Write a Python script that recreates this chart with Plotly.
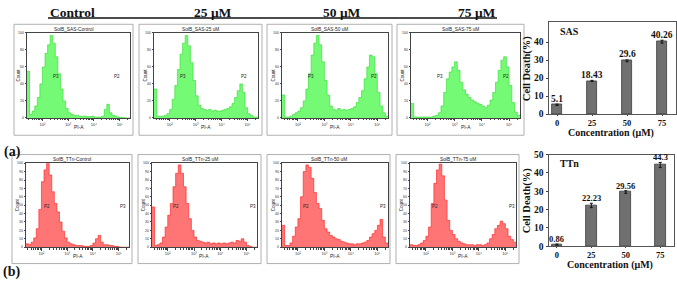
import numpy as np
import plotly.graph_objects as go

W, H = 677, 284

# ---------------- data ----------------
pia_log10_edges = [1.4, 1.5, 1.6, 1.7, 1.8, 1.9, 2.0, 2.1, 2.2, 2.3, 2.4, 2.5, 2.6, 2.7,
                   2.8, 2.9, 3.0, 3.1, 3.2, 3.3, 3.4, 3.5, 3.6, 3.7, 3.8, 3.9, 4.0, 4.1,
                   4.2, 4.3, 4.4, 4.5, 4.6, 4.7, 4.8, 4.9, 5.0, 5.1, 5.2, 5.3, 5.4]

header_labels = ["Control", "25 μM", "50 μM", "75 μM"]
sas_titles = ["SolB_SAS-Control", "SolB_SAS-25 uM", "SolB_SAS-50 uM", "SolB_SAS-75 uM"]
ttn_titles = ["SolB_TTn-Control", "SolB_TTn-25 uM", "SolB_TTn-50 uM", "SolB_TTn-75 uM"]

sas_control = [55, 4, 8, 14, 24, 40, 60, 76, 86, 97, 88, 72, 52, 34, 20, 11, 6, 4, 3, 3,
               2, 2, 2, 1.5, 1.5, 2, 1, 1, 1, 2, 10, 16, 6, 3, 2, 1, 0.5, 0.5, 0, 0]
sas_25 = [34, 2, 2, 2, 3, 5, 10, 22, 38, 57, 75, 88, 97, 85, 65, 44, 26, 15, 11, 10,
          9, 10, 8, 9, 8, 8, 9, 10, 11, 13, 17, 24, 32, 40, 30, 12, 5, 3, 1, 1]
sas_50 = [27, 1, 1, 2, 4, 6, 8, 12, 20, 34, 52, 74, 88, 97, 86, 66, 44, 27, 14, 10,
          9, 11, 9, 10, 9, 10, 11, 13, 18, 24, 32, 46, 60, 74, 72, 52, 30, 14, 6, 2]
sas_75 = [17, 1, 1, 1, 1, 1, 1, 1, 2, 3, 6, 14, 30, 46, 54, 60, 66, 56, 42, 33,
          28, 24, 21, 19, 17, 16, 14, 12, 15, 21, 30, 42, 56, 68, 72, 60, 38, 18, 7, 3]

ttn_control = [4, 3, 6, 11, 22, 45, 78, 92, 100, 86, 66, 52, 42, 30, 19, 11, 6, 4, 3, 2,
               2, 2, 1, 1, 1, 2, 5, 10, 14, 6, 3, 3, 2, 2, 1, 1, 0, 0, 0, 0]
ttn_25 = [48, 2, 3, 5, 12, 24, 38, 52, 72, 88, 98, 88, 72, 52, 34, 20, 12, 8, 7, 6,
          5, 6, 4, 5, 4, 5, 4, 5, 4, 5, 6, 5, 8, 7, 10, 6, 2, 1, 0, 0]
ttn_50 = [26, 2, 2, 5, 13, 24, 34, 60, 90, 98, 95, 82, 65, 52, 46, 32, 22, 18, 14, 12,
          10, 9, 7, 6, 5, 4, 4, 3, 4, 4, 5, 6, 8, 12, 16, 20, 26, 33, 12, 5]
ttn_75 = [3, 2, 2, 3, 5, 8, 13, 24, 52, 76, 92, 99, 85, 56, 32, 20, 15, 10, 7, 5,
          4, 3, 3, 3, 2, 3, 3, 2, 3, 5, 10, 15, 22, 26, 31, 28, 22, 13, 9, 6]

# gates (log10 PI-A for the divider, count level for the horizontal bars)
sas_gate_x = [4.37, 4.32, 4.24, 4.30]
sas_gate_left = [56, 18, 21.5, 24]
sas_gate_right = [52, 18, 21.5, 24]
ttn_gate_x = [4.28, 4.29, 4.35, 4.35]
ttn_gate_left = [29, 33, 50, 20]
ttn_gate_right = [18, 20, 50, 13]

concentrations = ["0", "25", "50", "75"]
sas_death = [5.1, 18.43, 29.6, 40.26]
sas_err = [0.4, 0.3, 0.5, 0.8]
sas_labels = ["5.1", "18.43", "29.6", "40.26"]
ttn_death = [0.86, 22.23, 29.56, 44.3]
ttn_err = [0.3, 1.2, 0.7, 1.4]
ttn_labels = ["0.86", "22.23", "29.56", "44.3"]

# ---------------- styling / layout ----------------
SERIF = "Liberation Serif, Times New Roman, serif"
SANS = "Liberation Sans, Arial, sans-serif"


def fx(p):
    return p / W


def fy(p):
    return 1 - p / H


rows = [
    dict(inner_x=[(27, 130), (154, 258), (282, 388), (411, 520)],
         outer_x=[(14, 133), (139, 262), (267, 392), (397, 524)],
         inner_y=(29, 117), outer_y=(20, 135),
         hist=[sas_control, sas_25, sas_50, sas_75], titles=sas_titles,
         gx=sas_gate_x, gl=sas_gate_left, gr=sas_gate_right,
         lab_l="P3", lab_r="P2", lxl=[2.54, 2.53, 2.48, 2.47], lxr=[4.9, 4.87, 4.88, 4.9],
         fill="rgba(110,250,110,0.95)", line="#2bdc2b", dtick=20),
    dict(inner_x=[(26, 129), (152, 257), (282, 388), (410, 516)],
         outer_x=[(12, 132), (138, 261), (267, 390), (396, 519)],
         inner_y=(164, 251), outer_y=(155, 268),
         hist=[ttn_control, ttn_25, ttn_50, ttn_75], titles=ttn_titles,
         gx=ttn_gate_x, gl=ttn_gate_left, gr=ttn_gate_right,
         lab_l="P2", lab_r="P3", lxl=[2.23, 2.32, 2.29, 2.35], lxr=[5.18, 5.23, 5.22, 5.25],
         fill="rgba(255,110,110,0.95)", line="#ff1a1a", dtick=10),
]

x_edges = 10 ** np.array(pia_log10_edges)
minor_vals = [k * 10.0 ** d for d in range(1, 6) for k in range(2, 10)
              if 1.4 <= np.log10(k * 10.0 ** d) <= 5.4]

fig = go.Figure()
axes = {}
shapes = []
ann = []

idx = 0
for r in rows:
    for j in range(4):
        idx += 1
        counts = list(r["hist"][j])
        fig.add_trace(go.Scatter(
            x=x_edges, y=counts + [counts[-1]], mode="lines",
            line=dict(shape="hv", width=0.6, color=r["line"]),
            fill="tozeroy", fillcolor=r["fill"],
            xaxis=f"x{idx}", yaxis=f"y{idx}", hoverinfo="skip", showlegend=False))
        l, rr = r["inner_x"][j]
        t, b = r["inner_y"]
        axes[f"xaxis{idx}"] = dict(
            domain=[fx(l), fx(rr)], anchor=f"y{idx}", type="log", range=[1.4, 5.4],
            tickvals=[1e2, 1e3, 1e4, 1e5], ticktext=["10²", "10³", "10⁴", "10⁵"],
            ticks="outside", ticklen=2.5, tickwidth=0.6, tickcolor="#444",
            tickfont=dict(size=4, family=SANS, color="#333"),
            showline=True, mirror=True, linecolor="#444", linewidth=0.8,
            showgrid=False, zeroline=False,
            minor=dict(tickvals=minor_vals, ticks="outside", ticklen=1.5,
                       tickwidth=0.5, tickcolor="#444"))
        axes[f"yaxis{idx}"] = dict(
            domain=[fy(b), fy(t)], anchor=f"x{idx}", range=[0, 100],
            dtick=r["dtick"], ticks="outside", ticklen=1.5, tickwidth=0.5, tickcolor="#444",
            tickfont=dict(size=3.5, family=SANS, color="#333"),
            showline=True, mirror=True, linecolor="#444", linewidth=0.8,
            showgrid=False, zeroline=False)
        # gates
        g = r["gx"][j]
        gl_ = dict(color="#4a4a4a", width=0.8)
        shapes.append(dict(type="line", xref=f"x{idx}", yref=f"y{idx}",
                           x0=g, x1=g, y0=0, y1=100, line=gl_))
        shapes.append(dict(type="line", xref=f"x{idx}", yref=f"y{idx}",
                           x0=1.4, x1=g, y0=r["gl"][j], y1=r["gl"][j], line=gl_))
        shapes.append(dict(type="line", xref=f"x{idx}", yref=f"y{idx}",
                           x0=g, x1=5.4, y0=r["gr"][j], y1=r["gr"][j], line=gl_))
        ann.append(dict(xref=f"x{idx}", yref=f"y{idx}", x=r["lxl"][j], y=49,
                        text=r["lab_l"], showarrow=False,
                        font=dict(size=4.5, family=SANS, color="#222")))
        ann.append(dict(xref=f"x{idx}", yref=f"y{idx}", x=r["lxr"][j], y=49,
                        text=r["lab_r"], showarrow=False,
                        font=dict(size=4.5, family=SANS, color="#222")))
        # outer frame
        ol, orr = r["outer_x"][j]
        ot, ob = r["outer_y"]
        shapes.append(dict(type="rect", xref="paper", yref="paper",
                           x0=fx(ol), x1=fx(orr), y0=fy(ob), y1=fy(ot),
                           line=dict(color="#9c9c9c", width=0.8)))
        # titles / axis labels
        ann.append(dict(xref="paper", yref="paper", x=fx((ol + orr) / 2), y=fy(t - 4),
                        text=r["titles"][j], showarrow=False,
                        font=dict(size=4.8, family=SANS, color="#222")))
        ann.append(dict(xref="paper", yref="paper", x=fx((l + rr) / 2), y=fy(b + 10),
                        text="PI-A", showarrow=False,
                        font=dict(size=4.8, family=SANS, color="#222")))
        ann.append(dict(xref="paper", yref="paper", x=fx(l - 9), y=fy((t + b) / 2),
                        text="Count", showarrow=False, textangle=-90,
                        font=dict(size=4.5, family=SANS, color="#222")))

# ---------------- bar charts ----------------
bar_specs = [
    dict(vals=sas_death, err=sas_err, labels=sas_labels, name="SAS",
         x=(549, 676), y=(18, 113), yr=[0, 51], lab_size=9.5, shift=5.5, conc_off=20),
    dict(vals=ttn_death, err=ttn_err, labels=ttn_labels, name="TTn",
         x=(549, 674), y=(155, 250), yr=[0, 50], lab_size=8.5, shift=5, conc_off=19),
]
for bs in bar_specs:
    idx += 1
    fig.add_trace(go.Bar(
        x=[0, 1, 2, 3], y=bs["vals"], width=0.31,
        marker=dict(color="#707070", line=dict(color="#3c3c3c", width=0.8)),
        error_y=dict(type="data", array=bs["err"], visible=True, thickness=1,
                     width=1.5, color="#111"),
        xaxis=f"x{idx}", yaxis=f"y{idx}", showlegend=False, hoverinfo="skip"))
    for k, (v, e, lab) in enumerate(zip(bs["vals"], bs["err"], bs["labels"])):
        ann.append(dict(xref=f"x{idx}", yref=f"y{idx}", x=k, y=v + e, yshift=bs["shift"],
                        text=f"<b>{lab}</b>", showarrow=False,
                        font=dict(size=bs["lab_size"], family=SERIF, color="#111")))
    l, rr = bs["x"]
    t, b = bs["y"]
    axes[f"xaxis{idx}"] = dict(
        domain=[fx(l), fx(rr)], anchor=f"y{idx}", range=[-0.23, 3.4],
        tickvals=[0, 1, 2, 3], ticktext=concentrations, ticks="outside", ticklen=1,
        tickcolor="#444", tickfont=dict(size=8.5, family=SERIF, color="#111", weight="bold"),
        showline=True, mirror=True, linecolor="#555", linewidth=1,
        showgrid=False, zeroline=False)
    axes[f"yaxis{idx}"] = dict(
        domain=[fy(b), fy(t)], anchor=f"x{idx}", range=bs["yr"],
        tickvals=[0, 10, 20, 30, 40, 50] if bs["yr"][1] == 50 else [0, 10, 20, 30, 40],
        ticks="outside", ticklen=2.5, tickcolor="#444",
        tickfont=dict(size=9.5, family=SERIF, color="#111", weight="bold"),
        showline=True, mirror=True, linecolor="#555", linewidth=1,
        showgrid=False, zeroline=False)
    ann.append(dict(xref="paper", yref="paper", x=fx(l + 9), y=fy(t + 9), xanchor="left",
                    text=f"<b>{bs['name']}</b>", showarrow=False,
                    font=dict(size=10, family=SERIF, color="#111")))
    ann.append(dict(xref="paper", yref="paper", x=fx((l + rr) / 2 - 2), y=fy(b + bs["conc_off"]),
                    text="<b>Concentration (μM)</b>", showarrow=False,
                    font=dict(size=10, family=SERIF, color="#111")))
    ann.append(dict(xref="paper", yref="paper", x=fx(527), y=fy((t + b) / 2),
                    text="<b>Cell Death(%)</b>", showarrow=False, textangle=-90,
                    font=dict(size=10.5, family=SERIF, color="#111")))

# ---------------- header & panel letters ----------------
header_x = [72, 213, 342, 477]
for hx, txt in zip(header_x, header_labels):
    ann.append(dict(xref="paper", yref="paper", x=fx(hx), y=fy(7.5), text=f"<b>{txt}</b>",
                    showarrow=False, font=dict(size=13.5, family=SERIF, color="#111")))
shapes.append(dict(type="line", xref="paper", yref="paper", x0=fx(48), x1=fx(497),
                   y0=fy(13.5), y1=fy(13.5), line=dict(color="#111", width=1.3)))
ann.append(dict(xref="paper", yref="paper", x=fx(2), y=fy(152), xanchor="left",
                text="<b>(a)</b>", showarrow=False, font=dict(size=14, family=SERIF, color="#111")))
ann.append(dict(xref="paper", yref="paper", x=fx(1), y=fy(277), xanchor="left",
                text="<b>(b)</b>", showarrow=False, font=dict(size=14, family=SERIF, color="#111")))

for a in ann:
    a.setdefault("xanchor", "center")
    a.setdefault("yanchor", "middle")

fig.update_layout(
    width=W, height=H, margin=dict(l=0, r=0, t=0, b=0),
    paper_bgcolor="white", plot_bgcolor="white",
    shapes=shapes, annotations=ann, showlegend=False, bargap=0,
    **axes)

fig.write_html("out.html", config={"displayModeBar": False},
               post_script="document.body.style.margin='0';document.body.style.padding='0';"
                           "document.documentElement.style.overflow='hidden';")
